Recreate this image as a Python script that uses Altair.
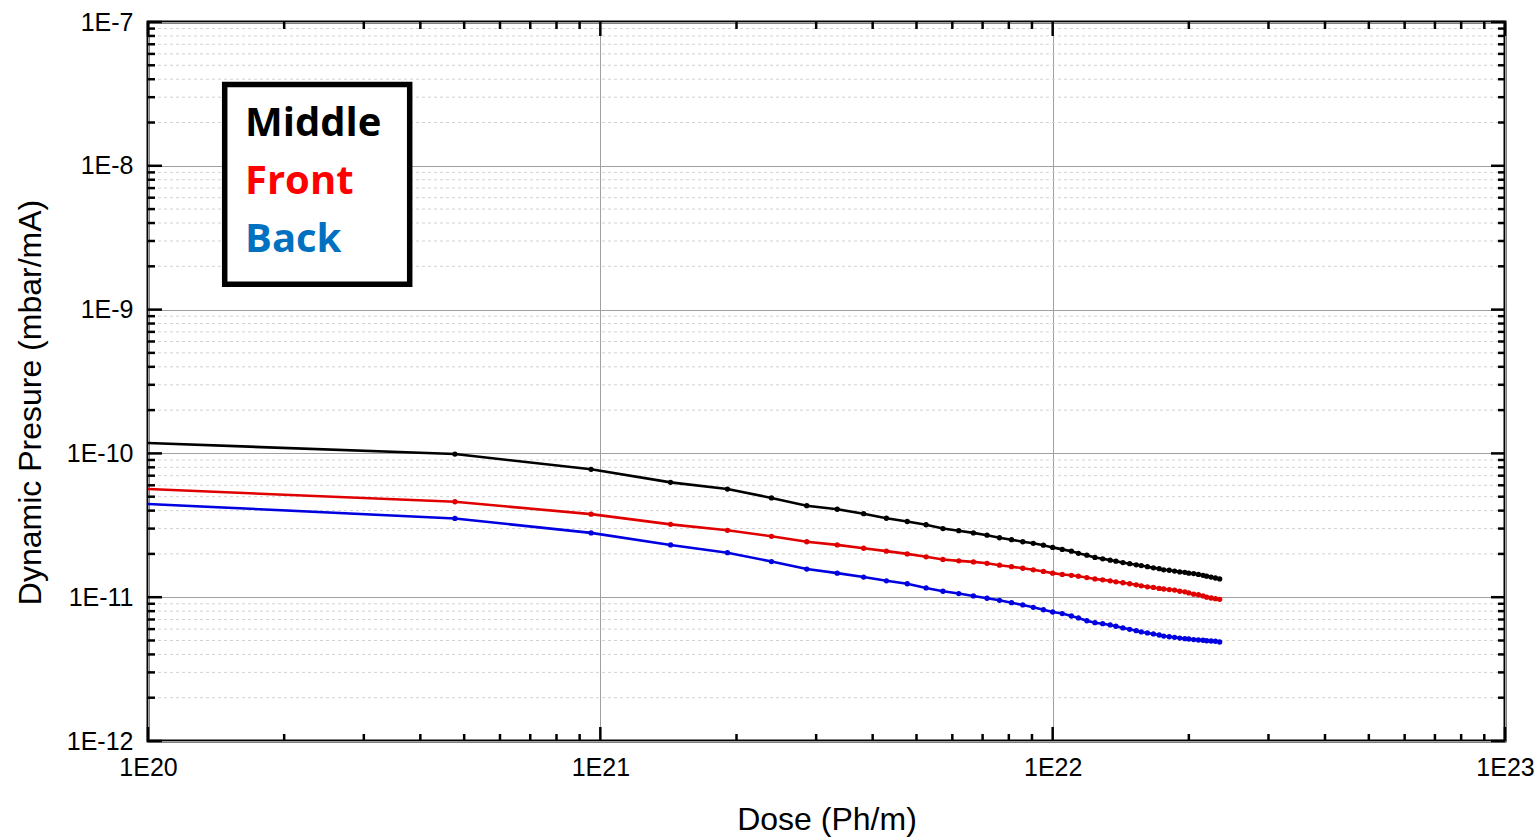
import altair as alt
import pandas as pd

# Photon dose (Ph/m) at each measurement
dose = [1.0e20,
        4.77e20, 9.54e20, 1.43e21, 1.91e21, 2.39e21, 2.86e21, 3.34e21, 3.82e21, 4.29e21, 4.77e21,
        5.25e21, 5.72e21, 6.20e21, 6.68e21, 7.16e21, 7.63e21, 8.11e21, 8.59e21, 9.06e21, 9.54e21,
        1.00e22, 1.05e22, 1.10e22, 1.14e22, 1.19e22, 1.24e22, 1.29e22, 1.34e22, 1.38e22, 1.43e22,
        1.48e22, 1.53e22, 1.57e22, 1.62e22, 1.67e22, 1.72e22, 1.76e22, 1.81e22, 1.86e22, 1.91e22,
        1.96e22, 2.00e22, 2.05e22, 2.10e22, 2.15e22, 2.19e22, 2.24e22, 2.29e22, 2.34e22]

# Dynamic pressure (mbar/mA) per gauge position
middle = [1.18e-10,
          9.90e-11, 7.75e-11, 6.29e-11, 5.65e-11, 4.90e-11, 4.33e-11, 4.09e-11, 3.81e-11, 3.54e-11, 3.36e-11,
          3.19e-11, 3.00e-11, 2.90e-11, 2.80e-11, 2.70e-11, 2.59e-11, 2.51e-11, 2.43e-11, 2.37e-11, 2.30e-11,
          2.22e-11, 2.15e-11, 2.09e-11, 2.02e-11, 1.96e-11, 1.89e-11, 1.85e-11, 1.81e-11, 1.78e-11, 1.74e-11,
          1.71e-11, 1.68e-11, 1.66e-11, 1.63e-11, 1.60e-11, 1.58e-11, 1.55e-11, 1.54e-11, 1.52e-11, 1.50e-11,
          1.49e-11, 1.47e-11, 1.46e-11, 1.44e-11, 1.42e-11, 1.40e-11, 1.38e-11, 1.36e-11, 1.34e-11]
front = [5.65e-11,
         4.61e-11, 3.78e-11, 3.21e-11, 2.92e-11, 2.65e-11, 2.43e-11, 2.31e-11, 2.19e-11, 2.09e-11, 2.00e-11,
         1.91e-11, 1.83e-11, 1.79e-11, 1.76e-11, 1.72e-11, 1.67e-11, 1.63e-11, 1.59e-11, 1.55e-11, 1.51e-11,
         1.47e-11, 1.44e-11, 1.42e-11, 1.40e-11, 1.37e-11, 1.34e-11, 1.32e-11, 1.30e-11, 1.28e-11, 1.26e-11,
         1.24e-11, 1.22e-11, 1.20e-11, 1.18e-11, 1.17e-11, 1.15e-11, 1.14e-11, 1.13e-11, 1.12e-11, 1.10e-11,
         1.09e-11, 1.07e-11, 1.05e-11, 1.04e-11, 1.02e-11, 1.00e-11, 9.87e-12, 9.76e-12, 9.67e-12]
back = [4.45e-11,
        3.53e-11, 2.80e-11, 2.31e-11, 2.04e-11, 1.77e-11, 1.57e-11, 1.47e-11, 1.38e-11, 1.30e-11, 1.24e-11,
        1.16e-11, 1.10e-11, 1.06e-11, 1.02e-11, 9.83e-12, 9.52e-12, 9.16e-12, 8.83e-12, 8.51e-12, 8.18e-12,
        7.89e-12, 7.70e-12, 7.40e-12, 7.17e-12, 6.86e-12, 6.65e-12, 6.54e-12, 6.41e-12, 6.28e-12, 6.11e-12,
        5.98e-12, 5.85e-12, 5.73e-12, 5.64e-12, 5.55e-12, 5.46e-12, 5.37e-12, 5.31e-12, 5.26e-12, 5.20e-12,
        5.15e-12, 5.12e-12, 5.07e-12, 5.04e-12, 5.02e-12, 4.98e-12, 4.96e-12, 4.94e-12, 4.88e-12]

series_names = ["Middle", "Front", "Back"]
line_colors = ["#000000", "#e00000", "#0000e0"]
label_colors = ["#000000", "#ff0000", "#0070c0"]

x_major = [1e20, 1e21, 1e22, 1e23]
y_major = [1e-12, 1e-11, 1e-10, 1e-9, 1e-8, 1e-7]
mantissas = [2, 3, 4, 5, 6, 7, 8, 9]

W, H = 1357, 719

rows = []
for name, vals in zip(series_names, [middle, front, back]):
    for d, v in zip(dose, vals):
        rows.append({"dose": d, "pressure": v, "series": name})
df = pd.DataFrame(rows)

x_minor = [m * 10.0 ** e for e in range(20, 23) for m in mantissas]
y_minor = [m * 10.0 ** e for e in range(-12, -7) for m in mantissas]

xscale = alt.Scale(type="log", domain=[1e20, 1e23], nice=False)
yscale = alt.Scale(type="log", domain=[1e-12, 1e-7], nice=False)
cscale = alt.Scale(domain=series_names, range=line_colors)

FONT = "Liberation Sans"

x_axis = alt.Axis(values=x_major, labelExpr="'1E' + round(log(datum.value) / LN10)",
                  grid=True, gridColor="#a0a0a0", gridWidth=1, domain=False, ticks=False,
                  labelFont=FONT, labelFontSize=25, labelColor="black", labelPadding=14,
                  labelFlush=False, labelOverlap=False,
                  title="Dose (Ph/m)", titleFont=FONT, titleFontSize=32, titleFontWeight="normal",
                  titleColor="black", titleY=88, titleBaseline="alphabetic")
y_axis = alt.Axis(values=y_major, labelExpr="'1E' + round(log(datum.value) / LN10)",
                  grid=True, gridColor="#a0a0a0", gridWidth=1, domain=False, ticks=False,
                  labelFont=FONT, labelFontSize=25, labelColor="black", labelPadding=15,
                  labelFlush=False, labelOverlap=False,
                  title="Dynamic Presure (mbar/mA)", titleFont=FONT, titleFontSize=32,
                  titleFontWeight="normal", titleColor="black", titleAngle=270,
                  titleX=-108, titleY=380, titleAlign="center", titleBaseline="alphabetic")

# minor horizontal grid (dashed)
minor_grid = alt.Chart(pd.DataFrame({"y": y_minor})).mark_rule(
    color="#d2d2d2", strokeWidth=1, strokeDash=[3, 3]
).encode(y=alt.Y("y:Q", scale=yscale, axis=y_axis))

lines = alt.Chart(df).mark_line(strokeWidth=2.6, clip=True).encode(
    x=alt.X("dose:Q", scale=xscale, axis=x_axis),
    y=alt.Y("pressure:Q", scale=yscale),
    color=alt.Color("series:N", scale=cscale, legend=None),
    order="dose:Q",
)

points = alt.Chart(df).transform_filter("datum.dose > 1e20").mark_circle(size=28, opacity=1).encode(
    x=alt.X("dose:Q", scale=xscale),
    y=alt.Y("pressure:Q", scale=yscale),
    color=alt.Color("series:N", scale=cscale, legend=None),
)

# inward ticks on all four sides
xt = pd.DataFrame({"v": x_major + x_minor, "len": [14] * len(x_major) + [7] * len(x_minor)})
yt = pd.DataFrame({"v": y_major + y_minor, "len": [14] * len(y_major) + [7] * len(y_minor)})
tick_layers = []
for length in (14, 7):
    xd = alt.Chart(xt).transform_filter(f"datum.len == {length}")
    yd = alt.Chart(yt).transform_filter(f"datum.len == {length}")
    tick_layers += [
        xd.mark_rule(color="black", strokeWidth=2.5).encode(
            x=alt.X("v:Q", scale=xscale), y=alt.value(H), y2=alt.value(H - length)),
        xd.mark_rule(color="black", strokeWidth=2.5).encode(
            x=alt.X("v:Q", scale=xscale), y=alt.value(0), y2=alt.value(length)),
        yd.mark_rule(color="black", strokeWidth=2.5).encode(
            y=alt.Y("v:Q", scale=yscale), x=alt.value(0), x2=alt.value(length)),
        yd.mark_rule(color="black", strokeWidth=2.5).encode(
            y=alt.Y("v:Q", scale=yscale), x=alt.value(W), x2=alt.value(W - length)),
    ]

# boxed series key
key_box = alt.Chart(pd.DataFrame({"k": [0]})).mark_rect(
    fill="white", stroke="black", strokeWidth=5.5
).encode(x=alt.value(76.7), x2=alt.value(261.7), y=alt.value(62.5), y2=alt.value(262.3))

key_texts = []
for i, (name, col) in enumerate(zip(series_names, label_colors)):
    key_texts.append(
        alt.Chart(pd.DataFrame({"label": [name]})).mark_text(
            align="left", baseline="alphabetic", font="Open Sans", fontWeight="bold",
            fontSize=40, color=col
        ).encode(text="label:N", x=alt.value(97), y=alt.value(113.7 + i * 58))
    )

chart = alt.layer(minor_grid, lines, points, *tick_layers, key_box, *key_texts).properties(
    width=W, height=H,
    padding={"left": 148, "top": 22, "right": 34, "bottom": 97},
    autosize=alt.AutoSizeParams(type="none"),
    background="white",
).configure_view(stroke="black", strokeWidth=3)

chart.save("out.html", embed_options={"renderer": "svg", "actions": False})
